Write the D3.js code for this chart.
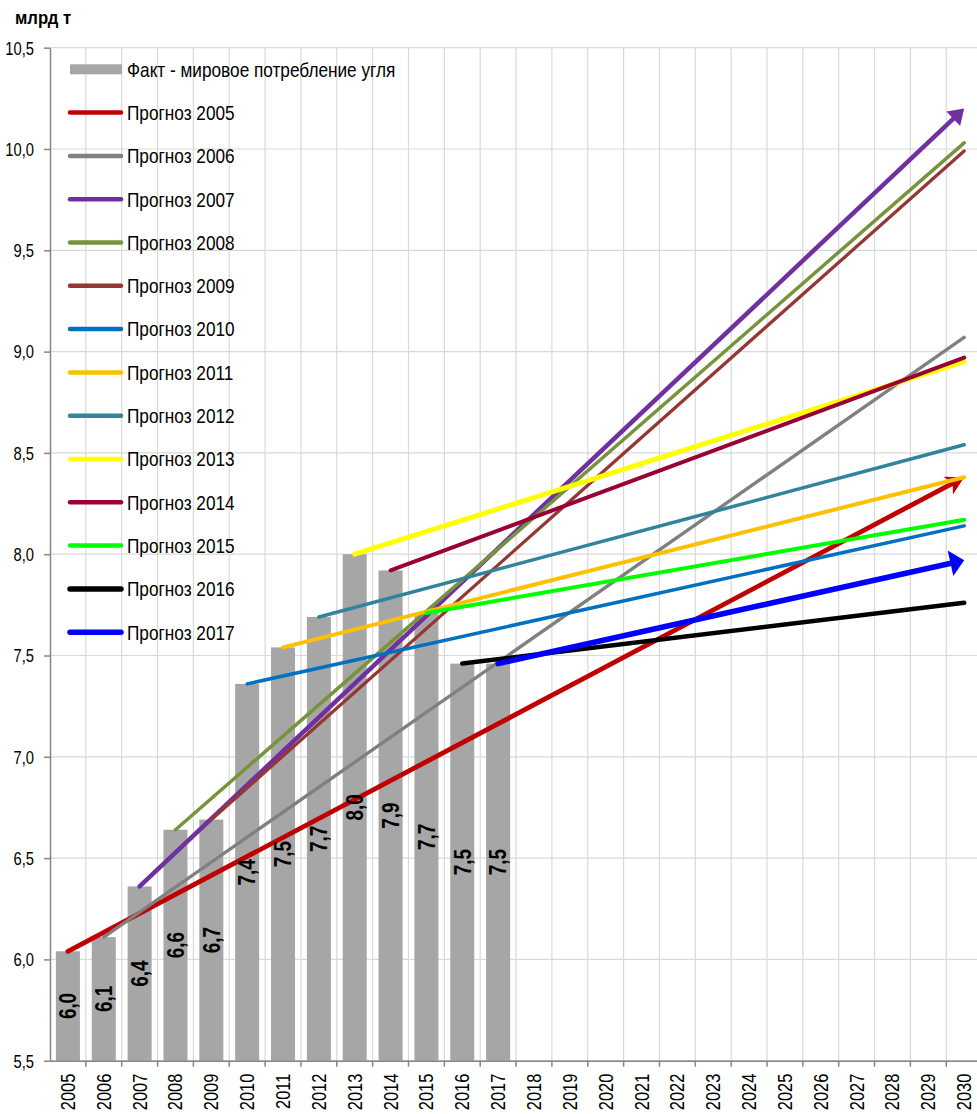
<!DOCTYPE html>
<html><head><meta charset="utf-8">
<script src="https://cdn.jsdelivr.net/npm/d3@7"></script>
<style>
body{margin:0;background:#fff;}
svg{display:block;}
text{font-family:"Liberation Sans",Arial,sans-serif;}
</style></head><body>
<svg id="chart" width="977" height="1114"></svg>
<script>
// ---- data ----
const years = d3.range(2005, 2031).map(String);
const factYears = ["2005","2006","2007","2008","2009","2010","2011","2012","2013","2014","2015","2016","2017"];
const factValues = [6.04, 6.11, 6.36, 6.64, 6.69, 7.36, 7.54, 7.69, 8.00, 7.92, 7.71, 7.46, 7.46];
const factLabels = ["6,0","6,1","6,4","6,6","6,7","7,4","7,5","7,7","8,0","7,9","7,7","7,5","7,5"];
const forecastNames = ["Прогноз 2005","Прогноз 2006","Прогноз 2007","Прогноз 2008","Прогноз 2009","Прогноз 2010","Прогноз 2011","Прогноз 2012","Прогноз 2013","Прогноз 2014","Прогноз 2015","Прогноз 2016","Прогноз 2017"];
const forecastStartYear = ["2005","2006","2007","2008","2009","2010","2011","2012","2013","2014","2015","2016","2017"];
const forecastStartValue = [6.04, 6.11, 6.36, 6.64, 6.69, 7.36, 7.54, 7.69, 8.00, 7.92, 7.71, 7.46, 7.46];
const forecastEndYear = "2030";
const forecastEndValue = [8.38, 9.07, 10.20, 10.03, 9.99, 8.14, 8.38, 8.54, 8.95, 8.97, 8.17, 7.76, 7.97];
const yTicks = [5.5, 6.0, 6.5, 7.0, 7.5, 8.0, 8.5, 9.0, 9.5, 10.0, 10.5];
const factName = "Факт - мировое потребление угля";
const unitLabel = "млрд т";

// ---- styles ----
const colors = ["#C00000","#808080","#7030A0","#77933C","#953735","#0070C0","#FFC000","#31849B","#FFFF00","#990033","#00FF00","#000000","#0000FF"];
const widths = [4.8,3.4,4.5,3.5,3.3,3.5,4,3.5,5,4,4,4.5,5.5];
const arrowKind = ["stealth",null,"tri",null,null,null,null,null,null,null,null,null,"big"];
const NARROW = 0.82;

const svg = d3.select("#chart");
const x = d3.scaleBand().domain(years).range([50, 982.1]).paddingInner(0.33).paddingOuter(0.165);
const y = d3.scaleLinear().domain([5.5, 10.5]).range([1060.7, 47.7]);
const cx = d => x(d) + x.bandwidth()/2;
const gap = (x.step() - x.bandwidth())/2;
const fmt = v => d3.format(".1f")(v).replace(".", ",");

// gridlines
svg.append("g").selectAll("line").data(yTicks).join("line")
  .attr("x1", 50).attr("x2", 982).attr("y1", d => y(d)).attr("y2", d => y(d))
  .attr("stroke", "#D9D9D9").attr("stroke-width", 1.2);
svg.append("g").selectAll("line").data(years).join("line")
  .attr("x1", d => x(d) + x.bandwidth() + gap).attr("x2", d => x(d) + x.bandwidth() + gap)
  .attr("y1", y(10.5)).attr("y2", y(5.5))
  .attr("stroke", "#D9D9D9").attr("stroke-width", 1.2);

// bars
svg.append("g").selectAll("rect").data(factYears).join("rect")
  .attr("x", d => x(d)).attr("width", x.bandwidth())
  .attr("y", (d,i) => y(factValues[i])).attr("height", (d,i) => y(5.5) - y(factValues[i]))
  .attr("fill", "#A6A6A6");

// axes
const yAxis = svg.append("g").attr("transform", "translate(50,0)")
  .call(d3.axisLeft(y).tickValues(yTicks).tickFormat(fmt).tickSize(6).tickSizeOuter(0));
yAxis.select(".domain").attr("stroke", "#868686").attr("stroke-width", 1.5);
yAxis.selectAll(".tick line").attr("stroke", "#868686").attr("stroke-width", 1.5);
yAxis.selectAll(".tick text").attr("x", 0).attr("dy", "0.35em")
  .attr("transform", `translate(-16,0) scale(${NARROW},1)`)
  .attr("font-size", 18).attr("fill", "#000").attr("font-family", '"Liberation Sans",Arial,sans-serif');

const xAxis = svg.append("g").attr("transform", `translate(0,${y(5.5)})`)
  .call(d3.axisBottom(x).tickSize(0).tickSizeOuter(0));
xAxis.select(".domain").attr("stroke", "#868686").attr("stroke-width", 1.5);
xAxis.selectAll(".tick text")
  .attr("transform", `translate(0,13) rotate(-90) scale(${NARROW},1)`)
  .attr("text-anchor", "end").attr("x", 0).attr("y", 0).attr("dy", "0.35em")
  .attr("font-size", 20).attr("fill", "#000").attr("font-family", '"Liberation Sans",Arial,sans-serif');
svg.append("g").selectAll("line").data(years).join("line")
  .attr("x1", d => x(d) + x.bandwidth() + gap).attr("x2", d => x(d) + x.bandwidth() + gap)
  .attr("y1", y(5.5)).attr("y2", y(5.5) + 6)
  .attr("stroke", "#868686").attr("stroke-width", 1.5);

// arrow markers
const defs = svg.append("defs");
forecastNames.forEach((n, i) => {
  const k = arrowKind[i];
  if (!k) return;
  const m = defs.append("marker").attr("id", "arr" + i)
    .attr("markerUnits", "userSpaceOnUse").attr("orient", "auto")
    .attr("viewBox", "-20 -16 24 32").attr("markerWidth", 24).attr("markerHeight", 32)
    .attr("refX", 0).attr("refY", 0);
  let p;
  if (k === "stealth") p = "M-18,-10 L0,0 L-18,10 L-13,0 Z";
  else if (k === "tri") p = "M-15,-10 L0,0 L-15,10 Z";
  else p = "M-14,-13 L0,0 L-14,13 Z";
  m.append("path").attr("d", p).attr("fill", colors[i]);
});

// forecast lines
const line = d3.line().x(d => cx(d[0])).y(d => y(d[1]));
const lg = svg.append("g");
forecastNames.forEach((n, i) => {
  const pts = [[forecastStartYear[i], forecastStartValue[i]], [forecastEndYear, forecastEndValue[i]]];
  const k = arrowKind[i];
  if (k) {
    const x0 = cx(pts[0][0]), y0 = y(pts[0][1]), x1 = cx(pts[1][0]), y1 = y(pts[1][1]);
    const L = Math.hypot(x1-x0, y1-y0), s = (k === "stealth" ? 12 : 10) / L;
    const xe = x1 - (x1-x0)*s, ye = y1 - (y1-y0)*s;
    lg.append("path").attr("d", line([pts[0], [pts[1][0], y.invert(ye)]]).replace(/^M[^,]+/, "M" + x0).replace(/L[^,]+,/, "L" + xe + ","))
      .attr("fill", "none").attr("stroke", colors[i]).attr("stroke-width", widths[i]).attr("stroke-linecap", "round");
    lg.append("path").attr("d", line(pts))
      .attr("fill", "none").attr("stroke", "none").attr("marker-end", `url(#arr${i})`);
  } else {
    lg.append("path").attr("d", line(pts))
      .attr("fill", "none").attr("stroke", colors[i]).attr("stroke-width", widths[i]).attr("stroke-linecap", "round");
  }
});

// bar labels
svg.append("g").selectAll("text").data(factYears).join("text")
  .attr("transform", (d,i) => `translate(${cx(d)},${(y(factValues[i]) + y(5.5))/2}) rotate(-90) scale(${NARROW},1)`)
  .attr("text-anchor", "middle").attr("dy", "0.36em")
  .attr("font-size", 23).attr("font-weight", "bold").attr("fill", "#000")
  .text((d,i) => factLabels[i]);

// legend
const leg = svg.append("g");
const rowY = i => 69.3 + i * 43.3;
leg.append("rect").attr("x", 70).attr("y", rowY(0) - 5).attr("width", 52).attr("height", 10).attr("fill", "#A6A6A6");
leg.append("text").attr("transform", `translate(127,${rowY(0)}) scale(${NARROW},1)`).attr("dy", "0.35em").attr("font-size", 21).text(factName);
forecastNames.forEach((n, i) => {
  leg.append("line").attr("x1", 70).attr("x2", 121).attr("y1", rowY(i+1)).attr("y2", rowY(i+1))
    .attr("stroke", colors[i]).attr("stroke-width", i >= 11 ? 5.5 : 4.5).attr("stroke-linecap", "round");
  leg.append("text").attr("transform", `translate(127,${rowY(i+1)}) scale(${NARROW},1)`).attr("dy", "0.35em").attr("font-size", 21).text(n);
});

// unit label
svg.append("text").attr("transform", "translate(15,24) scale(0.88,1)").attr("font-size", 19).attr("font-weight", "bold").text(unitLabel);
</script>
</body></html>
